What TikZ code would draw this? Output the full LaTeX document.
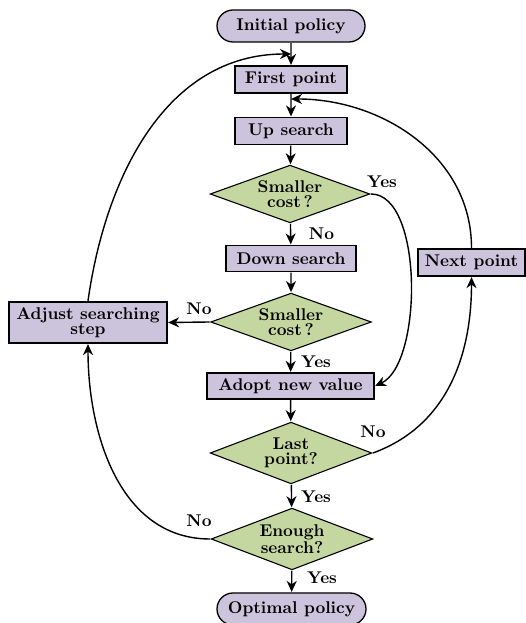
\documentclass[tikz,border=0pt]{standalone}
\usetikzlibrary{shapes.geometric,shapes.misc,arrows.meta}
\definecolor{boxfill}{RGB}{204,195,220}
\definecolor{decfill}{RGB}{197,215,160}
\begin{document}
\begin{tikzpicture}[x=1pt,y=1pt,
  every node/.style={font=\fontsize{10}{9}\selectfont\bfseries,scale=1.7},
  sz/.style n args={2}{minimum width={#1pt/1.7},minimum height={#2pt/1.7}},
  procbox/.style={draw=black,line width=1.3pt,fill=boxfill,inner sep=0pt,align=center},
  termbox/.style={draw=black,line width=1.3pt,fill=boxfill,inner sep=0pt,rounded rectangle},
  decbox/.style={draw=black,line width=1.1pt,fill=decfill,diamond,aspect=2.7,inner sep=0pt,align=center},
  lbl/.style={inner sep=0pt},
  conn/.style={line width=1.4pt,-{Stealth[length=11pt,width=10pt,inset=3.5pt]}}]
\useasboundingbox (0,0) rectangle (526,623);
\fill[white] (0,0) rectangle (526,623);
% nodes
\node[termbox,sz={148}{32}] (init) at (291,597) {Initial policy};
\node[procbox,sz={112}{27}] (first) at (291,543.5) {First point};
\node[procbox,sz={112}{27}] (up) at (291,492) {Up search};
\node[decbox,sz={160}{58}] (d1) at (290,429) {Smaller\\cost\,?};
\node[procbox,sz={130}{26}] (down) at (291,364.5) {Down search};
\node[decbox,sz={161}{58}] (d2) at (291,301) {Smaller\\cost\,?};
\node[procbox,sz={167}{26}] (adopt) at (290.5,237) {Adopt new value};
\node[decbox,sz={162}{62}] (d3) at (291,170) {Last\\point?};
\node[decbox,sz={162}{62}] (d4) at (292,84) {Enough\\search?};
\node[termbox,sz={149}{32}] (opt) at (291.5,14) {Optimal policy};
\node[procbox,sz={158}{41}] (adjust) at (88,300.5) {Adjust searching\\step};
\node[procbox,sz={107}{27}] (next) at (471.5,360.5) {Next point};
% junction points
\coordinate (j1) at (291,569);
\coordinate (j2) at (291,524);
% straight connectors
\draw[conn] (init) -- (first);
\draw[conn] (first) -- (up);
\draw[conn] (up) -- (d1);
\draw[conn] (d1) -- (down);
\draw[conn] (down) -- (d2);
\draw[conn] (d2.west) -- (adjust.east);
\draw[conn] (d2) -- (adopt);
\draw[conn] (adopt) -- (d3);
\draw[conn] (d3) -- (d4);
\draw[conn] (d4) -- (opt);
% curved connectors
\draw[conn] (adjust.north) to[out=82,in=180] (j1);
\draw[conn] (next.north) to[out=90,in=0] (j2);
\draw[conn] (d1.east) to[out=0,in=25,looseness=0.7] (adopt.east);
\draw[conn] (d3.east) to[out=20,in=-90] (next.south);
\draw[conn] (d4.west) to[out=180,in=-90] (adjust.south);
% labels
\node[lbl] (y1) at (382,441.5) {Yes};
\node[lbl] (n1) at (321.5,389.5) {No};
\node[lbl] (n2) at (199,314) {No};
\node[lbl] (y2) at (316,261) {Yes};
\node[lbl] (n3) at (373,191) {No};
\node[lbl] (y3) at (316,126) {Yes};
\node[lbl] (n4) at (199,102) {No};
\node[lbl] (y4) at (322,45) {Yes};
\end{tikzpicture}
\end{document}
